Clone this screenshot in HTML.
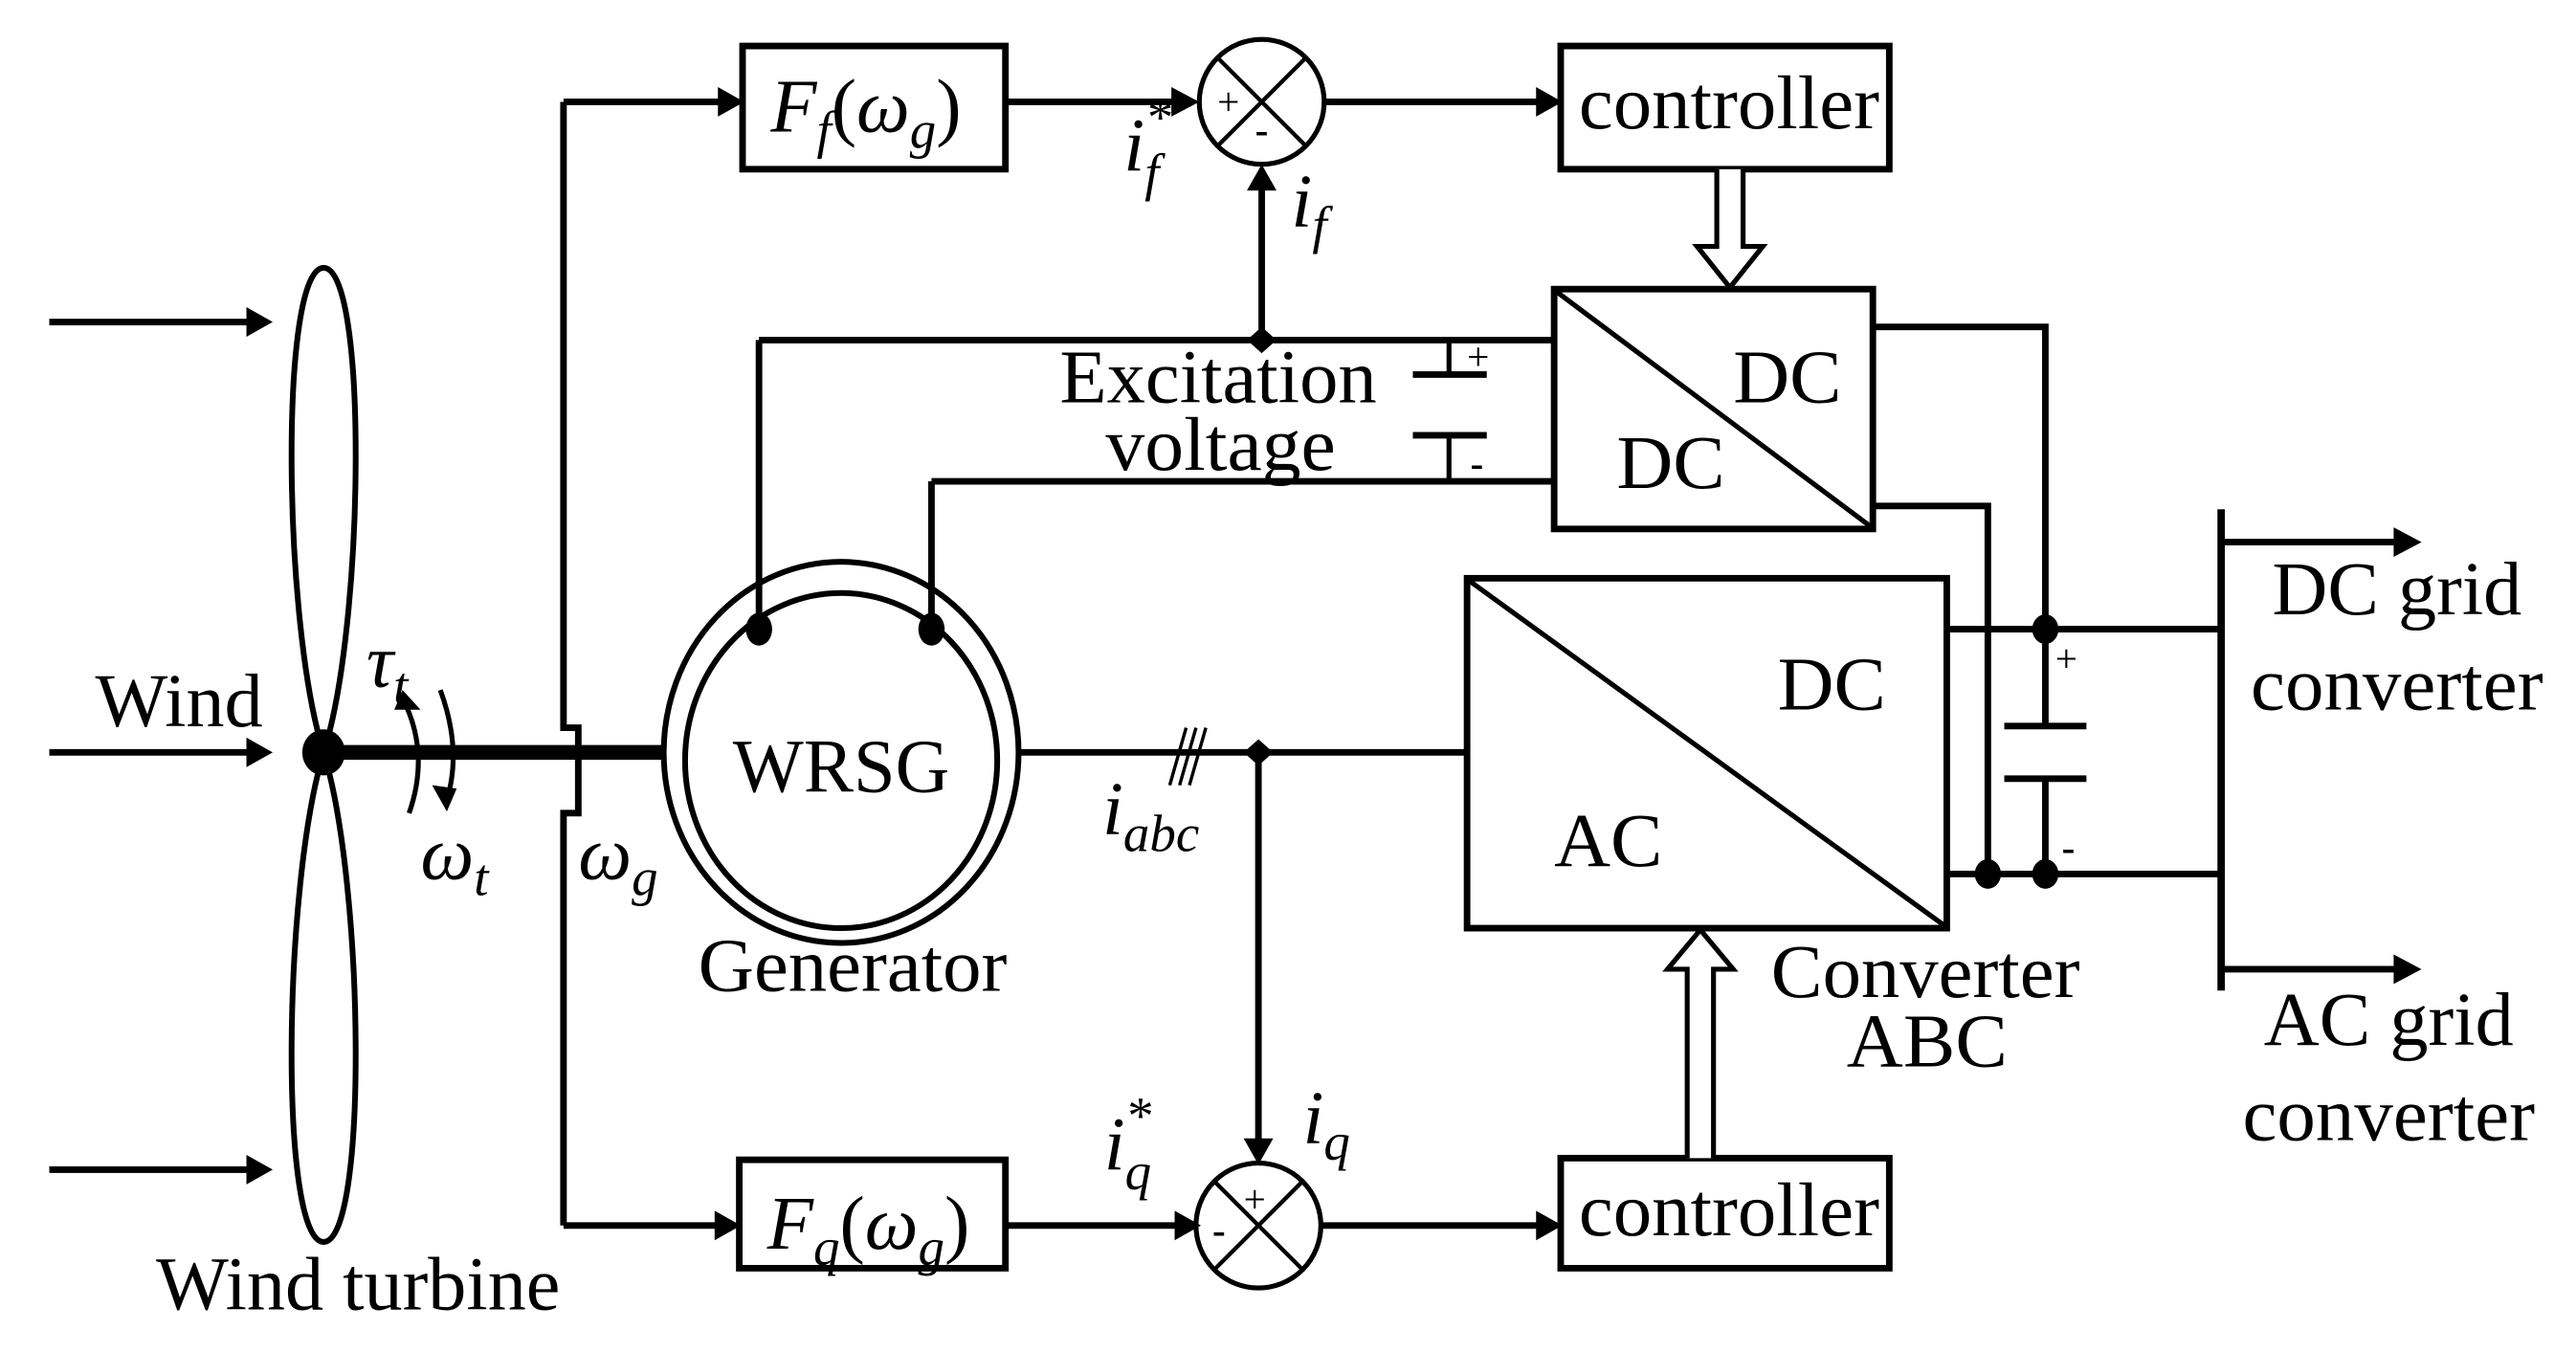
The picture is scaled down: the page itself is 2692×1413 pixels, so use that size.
<!DOCTYPE html>
<html><head><meta charset="utf-8"><style>
html,body{margin:0;padding:0;background:#fff;}
svg{display:block;}
text{font-family:"Liberation Serif",serif;fill:#000;}
.i{font-style:italic;}
</style></head><body>
<svg width="2692" height="1413" viewBox="0 0 1568 823" preserveAspectRatio="none" xmlns="http://www.w3.org/2000/svg">
<g stroke="#000" stroke-width="4" fill="none">
<path d="M197,458 C172,380 170,163 197,163 C224,163 222,380 197,458" stroke-width="3.5"/>
<path d="M197,458 C172,540 170,756 197,756 C224,756 222,540 197,458" stroke-width="3.5"/>
<line x1="30" y1="196" x2="152" y2="196"/>
<line x1="30" y1="458" x2="152" y2="458"/>
<line x1="30" y1="712" x2="152" y2="712"/>
<line x1="197" y1="458" x2="405" y2="458" stroke-width="9"/>
<path d="M343,62 V443 H352 V495 H343 V746"/>
<line x1="343" y1="62" x2="440" y2="62"/>
<line x1="343" y1="746" x2="438" y2="746"/>
<rect x="452" y="28" width="160" height="75"/>
<line x1="612" y1="62" x2="715" y2="62"/>
<circle cx="768" cy="62" r="38" stroke-width="3"/>
<line x1="741" y1="35" x2="795" y2="89" stroke-width="2.5"/>
<line x1="795" y1="35" x2="741" y2="89" stroke-width="2.5"/>
<line x1="806" y1="62" x2="938" y2="62"/>
<rect x="950" y="28" width="200" height="75"/>
<line x1="768" y1="207" x2="768" y2="112"/>
<line x1="462" y1="207" x2="946" y2="207"/>
<line x1="462" y1="207" x2="462" y2="383"/>
<line x1="567" y1="293" x2="946" y2="293"/>
<line x1="567" y1="293" x2="567" y2="383"/>
<line x1="882" y1="207" x2="882" y2="228" stroke-width="3"/>
<line x1="860" y1="228" x2="905" y2="228" stroke-width="4"/>
<line x1="860" y1="265" x2="905" y2="265" stroke-width="4"/>
<line x1="882" y1="265" x2="882" y2="293" stroke-width="3"/>
<rect x="946" y="176" width="194" height="146"/>
<line x1="948" y1="178" x2="1138" y2="320" stroke-width="3"/>
<path d="M1045,103 V150 H1033 L1053,175 L1073,150 H1061 V103" stroke-width="3" fill="#fff"/>
<ellipse cx="512" cy="458" rx="108" ry="116" stroke-width="3.5"/>
<ellipse cx="512" cy="463" rx="95" ry="102" stroke-width="3.5"/>
<line x1="620" y1="458" x2="893" y2="458"/>
<line x1="712" y1="478" x2="722" y2="443" stroke-width="2"/>
<line x1="718" y1="478" x2="728" y2="443" stroke-width="2"/>
<line x1="724" y1="478" x2="734" y2="443" stroke-width="2"/>
<line x1="766" y1="458" x2="766" y2="697"/>
<rect x="893" y="352" width="292" height="213"/>
<line x1="895" y1="354" x2="1183" y2="563" stroke-width="3"/>
<path d="M1140,199 H1245 V442"/>
<path d="M1140,308 H1210 V532"/>
<line x1="1185" y1="383" x2="1352" y2="383"/>
<line x1="1185" y1="532" x2="1352" y2="532"/>
<line x1="1220" y1="442" x2="1270" y2="442"/>
<line x1="1220" y1="474" x2="1270" y2="474"/>
<line x1="1245" y1="474" x2="1245" y2="532"/>
<line x1="1352" y1="310" x2="1352" y2="603" stroke-width="4.5"/>
<line x1="1352" y1="330" x2="1460" y2="330"/>
<line x1="1352" y1="590" x2="1460" y2="590"/>
<rect x="450" y="706" width="162" height="66"/>
<line x1="612" y1="746" x2="717" y2="746"/>
<circle cx="766" cy="746" r="38" stroke-width="3"/>
<line x1="739" y1="719" x2="793" y2="773" stroke-width="2.5"/>
<line x1="793" y1="719" x2="739" y2="773" stroke-width="2.5"/>
<line x1="804" y1="746" x2="938" y2="746"/>
<rect x="950" y="705" width="200" height="67"/>
<path d="M1027,705 V590 H1015 L1035,566 L1055,590 H1043 V705" stroke-width="3" fill="#fff"/>
<path d="M245,425 Q262,458 249,495" stroke-width="3"/>
<path d="M268,420 Q282,458 271,490" stroke-width="3"/>
</g>
<g fill="#000">
<path d="M150,187 L166,196 L150,205z"/>
<path d="M150,449 L166,458 L150,467z"/>
<path d="M150,703 L166,712 L150,721z"/>
<path d="M437,53 L453,62 L437,71z"/>
<path d="M435,737 L451,746 L435,755z"/>
<path d="M713,53 L730,62 L713,71z"/>
<path d="M935,53 L951,62 L935,71z"/>
<path d="M759,116 L768,100 L777,116z"/>
<path d="M757,693 L766,709 L775,693z"/>
<path d="M715,737 L731,746 L715,755z"/>
<path d="M935,737 L951,746 L935,755z"/>
<path d="M1457,321 L1474,330 L1457,339z"/>
<path d="M1457,581 L1474,590 L1457,599z"/>
<path d="M240,432 L245,420 L256,432z"/>
<path d="M263,478 L272,494 L278,480z"/>
<ellipse cx="197" cy="458" rx="13" ry="14"/>
<ellipse cx="462" cy="383" rx="8" ry="10"/>
<ellipse cx="567" cy="383" rx="8" ry="10"/>
<path d="M768,199 L777,207 L768,215 L759,207z"/>
<path d="M766,450 L775,458 L766,466 L757,458z"/>
<ellipse cx="1245" cy="383" rx="8" ry="9"/>
<ellipse cx="1210" cy="532" rx="8" ry="9"/>
<ellipse cx="1245" cy="532" rx="8" ry="9"/>
</g>
<g font-size="46">
<text x="58" y="442" textLength="102" lengthAdjust="spacingAndGlyphs">Wind</text>
<text x="95" y="797" textLength="246" lengthAdjust="spacingAndGlyphs">Wind turbine</text>
<text x="425" y="603" textLength="188" lengthAdjust="spacingAndGlyphs">Generator</text>
<text x="446" y="482" textLength="132" lengthAdjust="spacingAndGlyphs">WRSG</text>
<text x="961" y="78" textLength="183" lengthAdjust="spacingAndGlyphs">controller</text>
<text x="961" y="752" textLength="183" lengthAdjust="spacingAndGlyphs">controller</text>
<text x="645" y="245" textLength="193" lengthAdjust="spacingAndGlyphs">Excitation</text>
<text x="673" y="286" textLength="140" lengthAdjust="spacingAndGlyphs">voltage</text>
<text x="1055" y="245" textLength="66" lengthAdjust="spacingAndGlyphs">DC</text>
<text x="984" y="297" textLength="66" lengthAdjust="spacingAndGlyphs">DC</text>
<text x="1082" y="432" textLength="66" lengthAdjust="spacingAndGlyphs">DC</text>
<text x="946" y="527" textLength="66" lengthAdjust="spacingAndGlyphs">AC</text>
<text x="1078" y="607" textLength="188" lengthAdjust="spacingAndGlyphs">Converter</text>
<text x="1124" y="649" textLength="98" lengthAdjust="spacingAndGlyphs">ABC</text>
<text x="1383" y="374" textLength="152" lengthAdjust="spacingAndGlyphs">DC grid</text>
<text x="1370" y="432" textLength="178" lengthAdjust="spacingAndGlyphs">converter</text>
<text x="1378" y="636" textLength="152" lengthAdjust="spacingAndGlyphs">AC grid</text>
<text x="1365" y="694" textLength="178" lengthAdjust="spacingAndGlyphs">converter</text>
<text x="469" y="80" class="i">F<tspan font-size="32" dy="10">f</tspan><tspan dy="-10" font-style="normal">(</tspan>ω<tspan font-size="32" dy="10">g</tspan><tspan dy="-10" font-style="normal">)</tspan></text>
<text x="467" y="760" class="i">F<tspan font-size="32" dy="10">q</tspan><tspan dy="-10" font-style="normal">(</tspan>ω<tspan font-size="32" dy="10">g</tspan><tspan dy="-10" font-style="normal">)</tspan></text>
<text x="684" y="104" class="i">i<tspan font-size="32" dy="-22">*</tspan><tspan font-size="32" dx="-16" dy="34">f</tspan></text>
<text x="786" y="138" class="i">i<tspan font-size="32" dy="10">f</tspan></text>
<text x="672" y="712" class="i">i<tspan font-size="32" dy="-22">*</tspan><tspan font-size="32" dx="-16" dy="34">q</tspan></text>
<text x="793" y="696" class="i">i<tspan font-size="32" dy="10">q</tspan></text>
<text x="671" y="508" class="i">i<tspan font-size="32" dy="10">abc</tspan></text>
<text x="223" y="418" class="i">τ<tspan font-size="32" dy="10">t</tspan></text>
<text x="256" y="535" class="i">ω<tspan font-size="32" dy="10">t</tspan></text>
<text x="352" y="535" class="i">ω<tspan font-size="32" dy="10">g</tspan></text>
</g>
<g font-size="24">
<text x="741" y="70">+</text>
<text x="764" y="87" font-weight="bold">-</text>
<text x="757" y="738">+</text>
<text x="738" y="757" font-weight="bold">-</text>
<text x="893" y="225">+</text>
<text x="895" y="290" font-weight="bold">-</text>
<text x="1251" y="409">+</text>
<text x="1255" y="524" font-weight="bold">-</text>
</g>
</svg>
</body></html>
